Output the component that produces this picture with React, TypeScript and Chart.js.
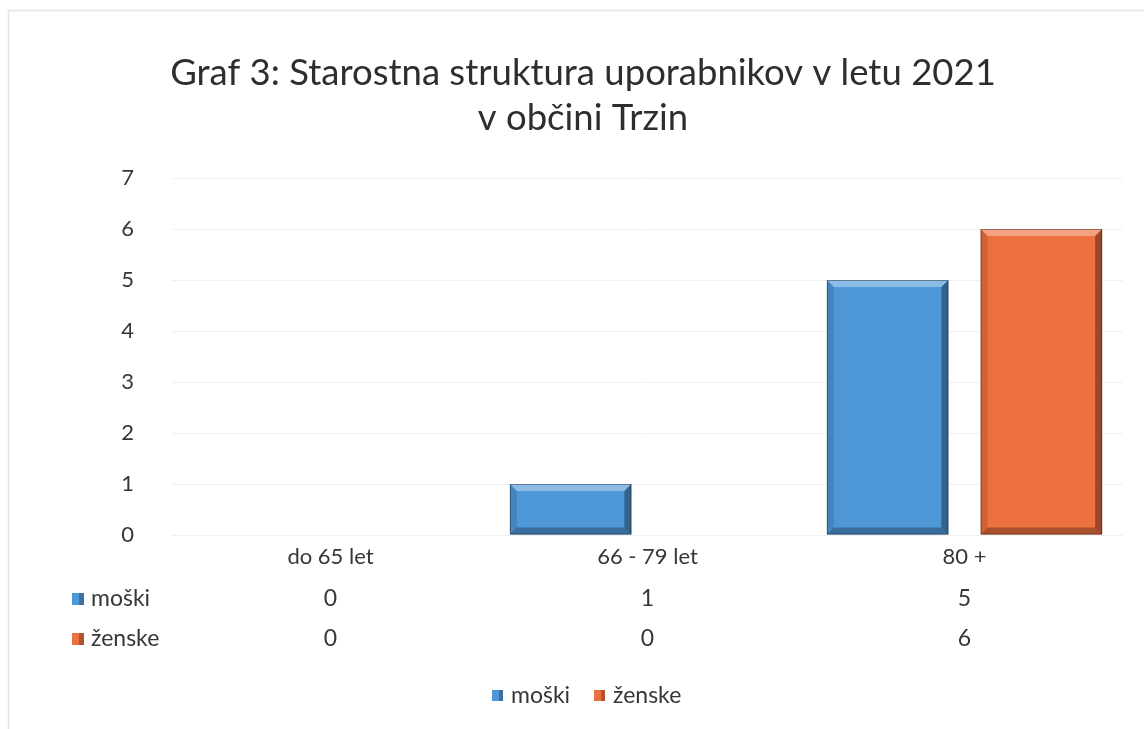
import React, { useEffect, useRef } from 'react';
import { Chart, registerables } from 'chart.js';

Chart.register(...registerables);

const titleLines = ['Graf 3: Starostna struktura uporabnikov v letu 2021', 'v občini Trzin'];
const categories = ['do 65 let', '66 - 79 let', '80 +'];
const seriesNames = ['moški', 'ženske'];
const moski = [0, 1, 5];
const zenske = [0, 0, 6];
const yMax = 7;

const FONT = 'Lato, "Noto Sans", "DejaVu Sans", sans-serif';
const TEXT = '#363636';
const BLUE = '#4f98d8';
const ORANGE = '#ec7040';

const framePlugin = {
  id: 'frame',
  beforeDraw(chart: any) {
    const { ctx, width, height } = chart;
    ctx.save();
    ctx.fillStyle = '#ffffff';
    ctx.fillRect(0, 0, width, height);
    ctx.strokeStyle = '#e4e4e4';
    ctx.lineWidth = 1.5;
    ctx.beginPath();
    ctx.moveTo(8.5, height);
    ctx.lineTo(8.5, 10.5);
    ctx.lineTo(width, 10.5);
    ctx.stroke();
    ctx.restore();
  },
};

const titlePlugin = {
  id: 'twoLineTitle',
  afterDraw(chart: any) {
    const { ctx } = chart;
    ctx.save();
    ctx.fillStyle = '#2e2e2e';
    ctx.font = `36.5px ${FONT}`;
    ctx.textAlign = 'center';
    ctx.textBaseline = 'middle';
    ctx.fillText(titleLines[0], 583, 73);
    ctx.fillText(titleLines[1], 583, 118);
    ctx.restore();
  },
};

function shade(ctx: any, pts: number[][], color: string) {
  ctx.beginPath();
  ctx.moveTo(pts[0][0], pts[0][1]);
  for (let i = 1; i < pts.length; i++) ctx.lineTo(pts[i][0], pts[i][1]);
  ctx.closePath();
  ctx.fillStyle = color;
  ctx.fill();
}

const bevelPlugin = {
  id: 'bevel',
  afterDatasetsDraw(chart: any) {
    const { ctx } = chart;
    ctx.save();
    chart.data.datasets.forEach((ds: any, di: number) => {
      const meta = chart.getDatasetMeta(di);
      meta.data.forEach((el: any) => {
        const p = el.getProps(['x', 'y', 'base', 'width'], true);
        const l = p.x - p.width / 2;
        const r = p.x + p.width / 2;
        const t = Math.min(p.y, p.base);
        const b = Math.max(p.y, p.base);
        if (b - t < 2) return;
        const bv = Math.min(7, (b - t) / 3);
        shade(ctx, [[l, t], [r, t], [r - bv, t + bv], [l + bv, t + bv]], 'rgba(255,255,255,0.35)');
        shade(ctx, [[l, t], [l + bv, t + bv], [l + bv, b - bv], [l, b]], 'rgba(0,0,0,0.12)');
        shade(ctx, [[r, t], [r, b], [r - bv, b - bv], [r - bv, t + bv]], 'rgba(0,0,0,0.35)');
        shade(ctx, [[l, b], [r, b], [r - bv, b - bv], [l + bv, b - bv]], 'rgba(0,0,0,0.28)');
        ctx.strokeStyle = 'rgba(0,0,0,0.35)';
        ctx.lineWidth = 1;
        ctx.strokeRect(l + 0.5, t + 0.5, r - l - 1, b - t - 1);
      });
    });
    ctx.restore();
  },
};

const tablePlugin = {
  id: 'dataTable',
  afterDraw(chart: any) {
    const { ctx } = chart;
    const xs = chart.scales.x;
    const rows = [
      { name: seriesNames[0], values: moski, color: BLUE, y: 599 },
      { name: seriesNames[1], values: zenske, color: ORANGE, y: 639 },
    ];
    ctx.save();
    ctx.font = `23px ${FONT}`;
    ctx.textBaseline = 'middle';
    rows.forEach((row) => {
      ctx.fillStyle = row.color;
      ctx.fillRect(72, row.y - 6, 12, 12);
      ctx.fillStyle = 'rgba(0,0,0,0.25)';
      ctx.fillRect(79, row.y - 6, 5, 12);
      ctx.fillStyle = TEXT;
      ctx.textAlign = 'left';
      ctx.fillText(row.name, 91, row.y);
      ctx.textAlign = 'center';
      row.values.forEach((v, i) => {
        ctx.fillText(String(v), xs.getPixelForValue(i), row.y);
      });
    });
    const ly = 696;
    const items = [
      { name: seriesNames[0], color: BLUE, x: 492 },
      { name: seriesNames[1], color: ORANGE, x: 594 },
    ];
    items.forEach((it) => {
      ctx.fillStyle = it.color;
      ctx.fillRect(it.x, ly - 6, 11, 11);
      ctx.fillStyle = 'rgba(0,0,0,0.25)';
      ctx.fillRect(it.x + 7, ly - 6, 4, 11);
      ctx.fillStyle = TEXT;
      ctx.textAlign = 'left';
      ctx.fillText(it.name, it.x + 19, ly);
    });
    ctx.restore();
  },
};

export default function App() {
  const ref = useRef<HTMLCanvasElement>(null);
  useEffect(() => {
    document.body.style.margin = '0';
    const chart = new Chart(ref.current as HTMLCanvasElement, {
      type: 'bar',
      data: {
        labels: categories,
        datasets: [
          { label: seriesNames[0], data: moski, backgroundColor: BLUE, borderWidth: 0 },
          { label: seriesNames[1], data: zenske, backgroundColor: ORANGE, borderWidth: 0 },
        ],
      },
      options: {
        animation: false,
        responsive: false,
        maintainAspectRatio: false,
        layout: { padding: { top: 178, left: 100, right: 21, bottom: 164 } },
        datasets: { bar: { categoryPercentage: 0.97, barPercentage: 0.79 } },
        plugins: {
          legend: { display: false },
          title: { display: false },
          tooltip: { enabled: false },
        },
        scales: {
          x: {
            grid: { display: false, drawTicks: false },
            border: { display: false },
            ticks: { color: TEXT, font: { size: 22, family: FONT }, padding: 9, maxRotation: 0 },
            afterFit: (s: any) => { s.height = 30; },
          },
          y: {
            min: 0,
            max: yMax,
            grid: { color: '#f0f0f0', drawTicks: false, lineWidth: 1 },
            border: { display: false },
            ticks: { stepSize: 1, color: TEXT, font: { size: 22, family: FONT }, padding: 38 },
            afterFit: (s: any) => { s.width = 72; },
          },
        },
      },
      plugins: [framePlugin, bevelPlugin, tablePlugin, titlePlugin],
    });
    return () => chart.destroy();
  }, []);
  return <canvas ref={ref} width={1144} height={729} style={{ display: 'block' }} />;
}
